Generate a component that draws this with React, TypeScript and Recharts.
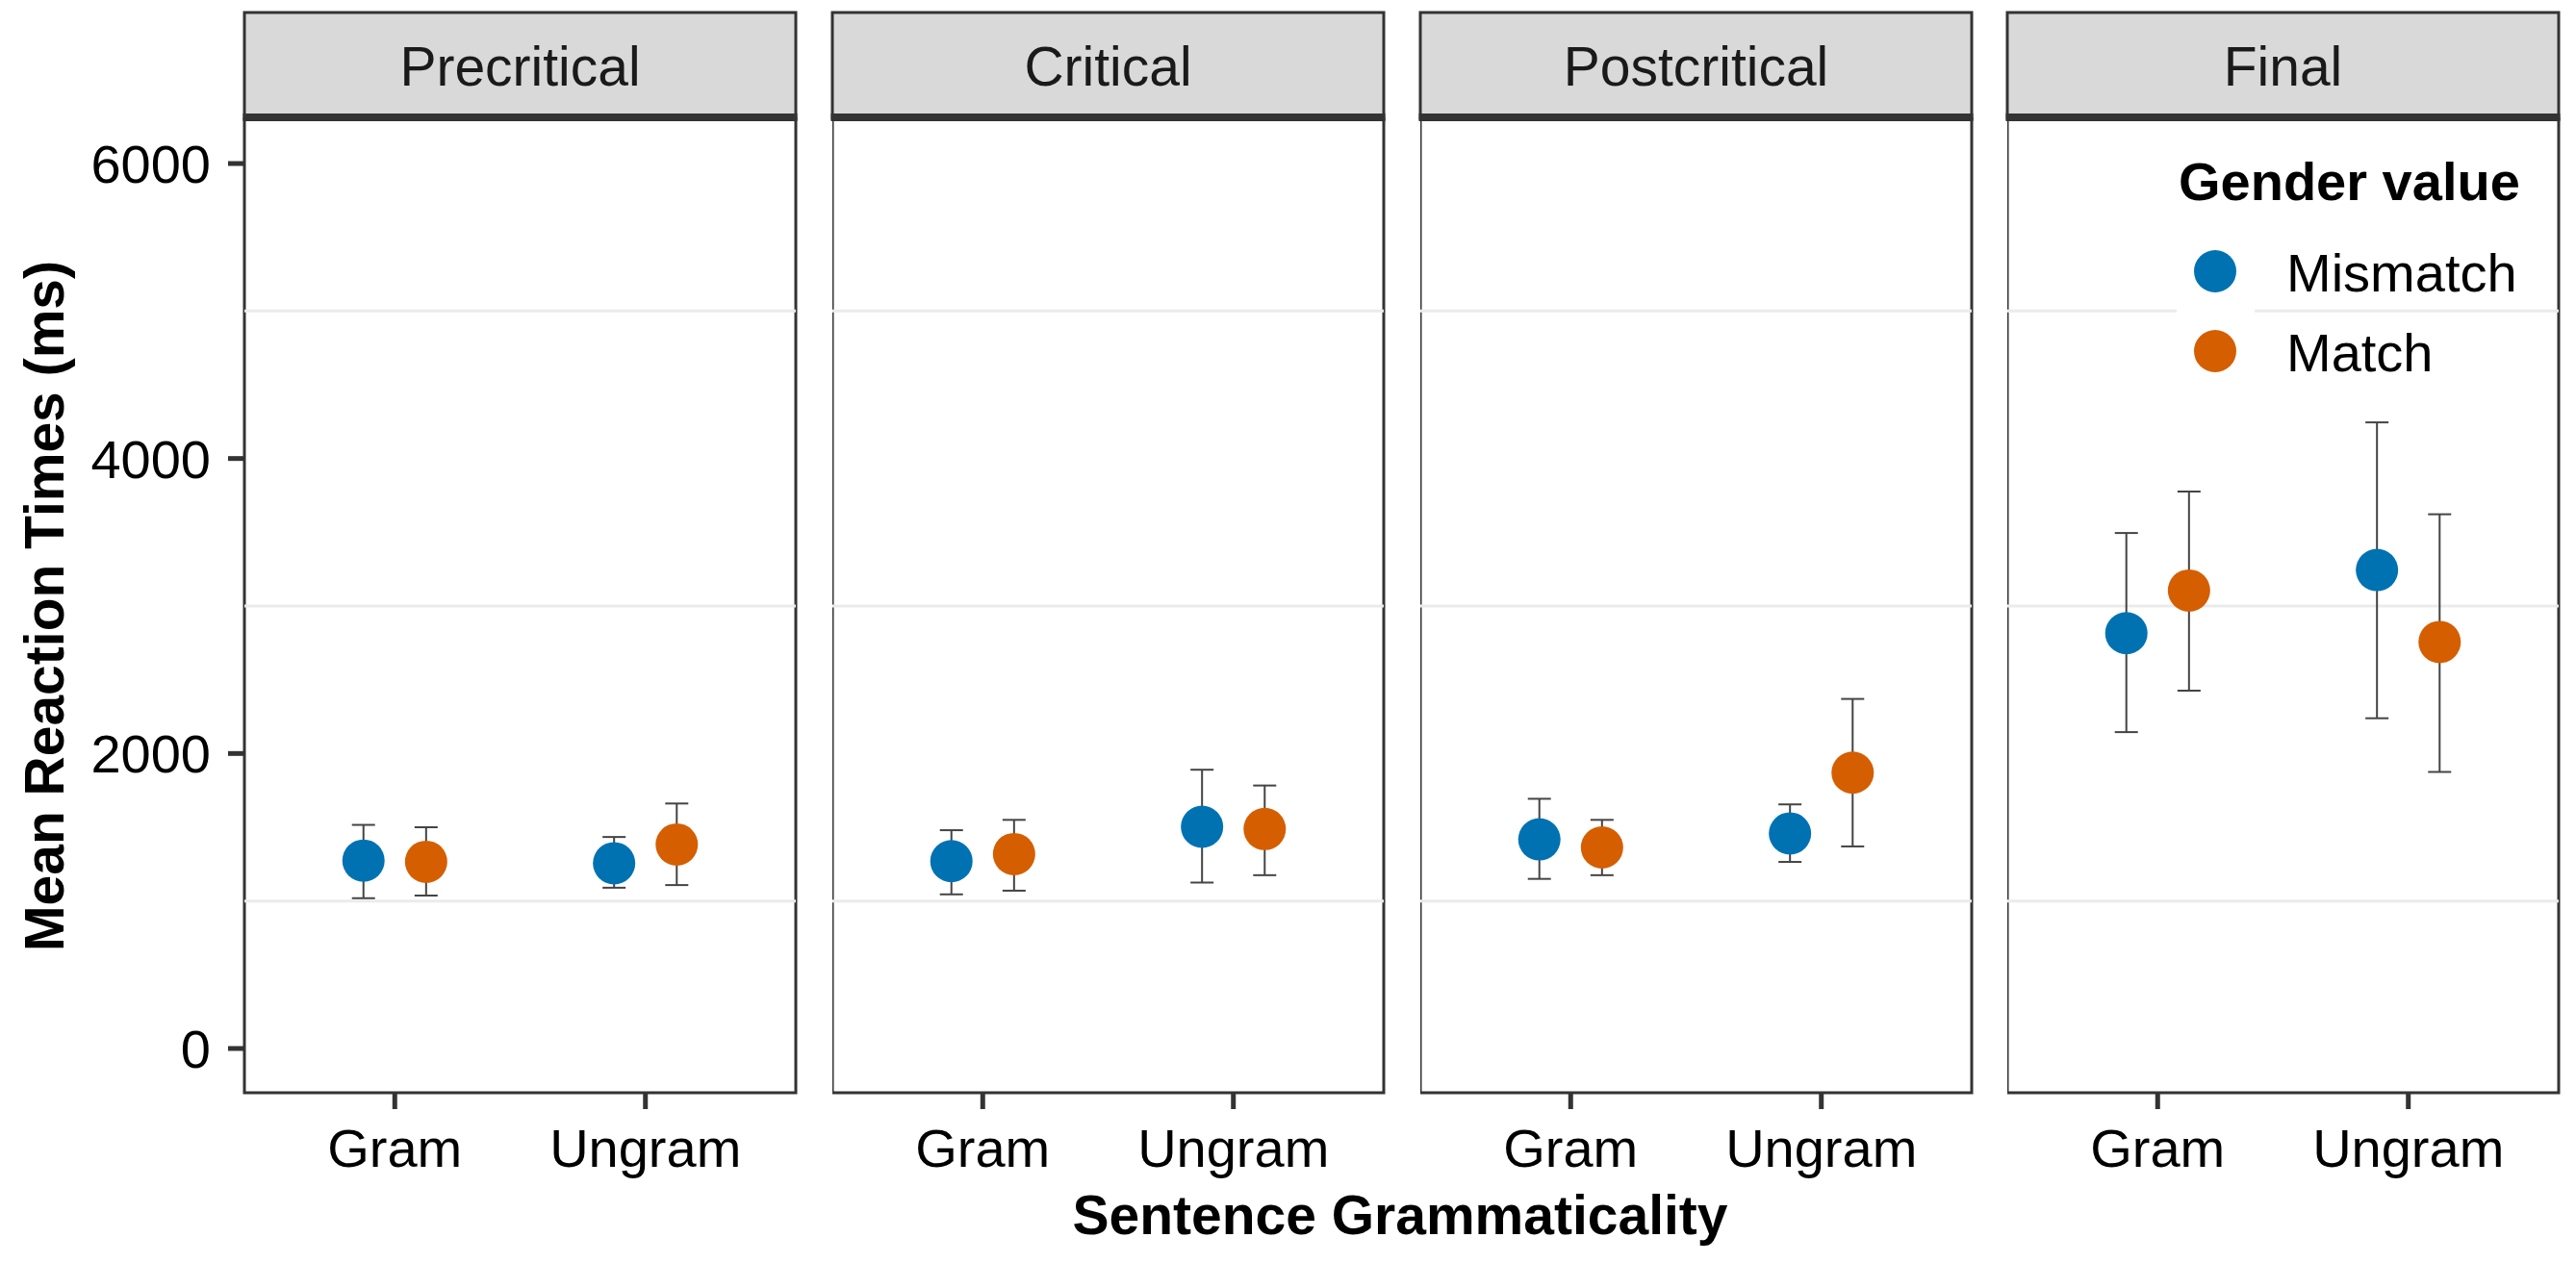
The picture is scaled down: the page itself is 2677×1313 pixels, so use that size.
import React from 'react';
import {
  ScatterChart,
  Scatter,
  XAxis,
  YAxis,
  ErrorBar,
  ReferenceLine,
  ReferenceArea,
  Legend,
} from 'recharts';

// facets, categories and values
const regions = ['Precritical', 'Critical', 'Postcritical', 'Final'];
const grammaticality = ['Gram', 'Ungram'];
const seriesNames = ['Mismatch', 'Match'];

const mismatchMean = [[1274, 1256], [1270, 1503], [1418, 1458], [2816, 3244]];
const mismatchLow = [[1019, 1090], [1045, 1125], [1150, 1265], [2145, 2239]];
const mismatchHigh = [[1516, 1434], [1480, 1890], [1693, 1655], [3495, 4245]];

const matchMean = [[1266, 1383], [1318, 1488], [1363, 1870], [3105, 2756]];
const matchLow = [[1037, 1108], [1070, 1175], [1175, 1370], [2426, 1875]];
const matchHigh = [[1500, 1661], [1550, 1783], [1550, 2370], [3776, 3622]];

const yTicks = [0, 2000, 4000, 6000];
const gridValues = [1000, 3000, 5000];

const BLUE = '#0072B2';
const ORANGE = '#D55E00';
const FONT = '"Liberation Sans", Arial, sans-serif';

const PANEL_LEFT = [254, 865, 1476, 2086];
const PANEL_W = 573;
const PLOT_TOP = 124;
const PLOT_BOTTOM = 1136;
const CHART_H = 1313;
const XAXIS_H = 100;
const DODGE = 0.125;

function buildSeries(mean: number[][], low: number[][], high: number[][], i: number, shift: number) {
  return grammaticality.map((g, j) => ({
    x: j + 1 + shift,
    y: mean[i][j],
    err: [mean[i][j] - low[i][j], high[i][j] - mean[i][j]],
    cat: g,
  }));
}

function LegendBox(props: any) {
  const payload = props.payload || [];
  const items = seriesNames
    .map((n) => payload.find((p: any) => p.value === n))
    .filter(Boolean)
    .map((p: any) => ({ name: p.value, color: p.color }));
  return (
    <svg width={420} height={280} style={{ display: 'block', overflow: 'visible' }}>
      <rect x={0} y={100} width={81} height={166} fill="#fff" />
      <text x={2} y={68} fontFamily={FONT} fontSize={56} fontWeight="bold" fill="#000">
        Gender value
      </text>
      {items.map((it: any, k: number) => (
        <g key={it.name}>
          <circle cx={40} cy={142 + k * 83} r={22} fill={it.color} />
          <text x={114} y={163 + k * 83} fontFamily={FONT} fontSize={56} fill="#000">
            {it.name}
          </text>
        </g>
      ))}
    </svg>
  );
}

function Panel({ i }: { i: number }) {
  const first = i === 0;
  const yAxisW = first ? PANEL_LEFT[0] : 0;
  const left = first ? 0 : PANEL_LEFT[i];
  const width = yAxisW + PANEL_W + 10;
  const mism = buildSeries(mismatchMean, mismatchLow, mismatchHigh, i, -DODGE);
  const mat = buildSeries(matchMean, matchLow, matchHigh, i, DODGE);
  const tickStyle = { fontSize: 56, fill: '#000', fontFamily: FONT };

  return (
    <div style={{ position: 'absolute', left, top: 0 }}>
      <ScatterChart
        width={width}
        height={CHART_H}
        margin={{ top: PLOT_TOP, right: 10, left: 0, bottom: CHART_H - PLOT_BOTTOM - XAXIS_H }}
      >
        <XAxis
          type="number"
          dataKey="x"
          domain={[0.4, 2.6]}
          ticks={[1, 2]}
          tickFormatter={(v: number) => grammaticality[Math.round(v) - 1]}
          height={XAXIS_H}
          axisLine={false}
          tickSize={17}
          tickMargin={20}
          tickLine={{ stroke: '#333', strokeWidth: 5 }}
          tick={tickStyle}
          allowDataOverflow
        />
        <YAxis
          type="number"
          dataKey="y"
          domain={[-300, 6300]}
          ticks={yTicks}
          width={yAxisW}
          hide={!first}
          axisLine={false}
          tickSize={17}
          tickMargin={18}
          tickLine={{ stroke: '#333', strokeWidth: 5 }}
          tick={tickStyle}
          allowDataOverflow
          label={
            first
              ? {
                  value: 'Mean Reaction Times (ms)',
                  angle: -90,
                  position: 'insideLeft',
                  offset: 46,
                  style: { textAnchor: 'middle', fontSize: 57, fontWeight: 'bold', fontFamily: FONT, fill: '#000' },
                }
              : undefined
          }
        />
        {gridValues.map((v) => (
          <ReferenceLine key={v} y={v} stroke="#EBEBEB" strokeWidth={3} />
        ))}
        <Scatter name="Mismatch" data={mism} fill={BLUE} isAnimationActive={false}
          shape={(p: any) => <circle cx={p.cx} cy={p.cy} r={22} fill={BLUE} />}>
          <ErrorBar dataKey="err" direction="y" width={12} stroke="#444" strokeWidth={2} isAnimationActive={false} />
        </Scatter>
        <Scatter name="Match" data={mat} fill={ORANGE} isAnimationActive={false}
          shape={(p: any) => <circle cx={p.cx} cy={p.cy} r={22} fill={ORANGE} />}>
          <ErrorBar dataKey="err" direction="y" width={12} stroke="#444" strokeWidth={2} isAnimationActive={false} />
        </Scatter>
        <ReferenceArea x1={0.4} x2={2.6} y1={-300} y2={6300} fill="none" stroke="#333" strokeWidth={3} ifOverflow="visible" />
        {i === 3 && (
          <Legend
            layout="horizontal"
            verticalAlign="middle"
            align="center"
            content={LegendBox}
            wrapperStyle={{ left: 2262 - PANEL_LEFT[3], top: 140, width: 420, height: 280 }}
          />
        )}
      </ScatterChart>
    </div>
  );
}

export default function App() {
  return (
    <div style={{ position: 'absolute', left: 0, top: 0, width: 2677, height: 1313, background: '#fff', overflow: 'hidden' }}>
      {regions.map((r, i) => (
        <Panel key={r} i={i} />
      ))}
      <svg width={2677} height={1313} style={{ position: 'absolute', left: 0, top: 0, pointerEvents: 'none' }}>
        {regions.map((r, i) => (
          <g key={r}>
            <rect x={PANEL_LEFT[i]} y={13} width={PANEL_W} height={110} fill="#D9D9D9" stroke="#333" strokeWidth={3} />
            <rect x={PANEL_LEFT[i] - 1.5} y={118} width={PANEL_W + 3} height={8} fill="#333" />
            <text x={PANEL_LEFT[i] + PANEL_W / 2} y={89} textAnchor="middle" fontFamily={FONT} fontSize={57} fill="#1a1a1a">
              {r}
            </text>
          </g>
        ))}
        <text x={1455} y={1283} textAnchor="middle" fontFamily={FONT} fontSize={57} fontWeight="bold" fill="#000">
          Sentence Grammaticality
        </text>
      </svg>
    </div>
  );
}
